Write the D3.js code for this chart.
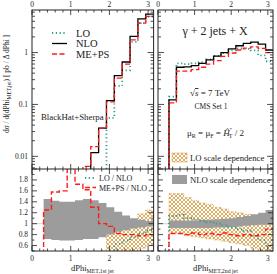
<!DOCTYPE html>
<html>
<head>
<meta charset="utf-8">
<script src="https://cdnjs.cloudflare.com/ajax/libs/d3/7.8.5/d3.min.js"></script>
<style>
  body { margin: 0; background: #fff; }
  text { font-family: "Liberation Serif", "DejaVu Serif", serif; fill: #222; }
</style>
</head>
<body>
<svg id="chart" width="277" height="274"></svg>
<script>
// bin edges in dPhi (same binning for both panels)
var edges = [0.3, 0.503, 0.706, 0.909, 1.112, 1.315, 1.518, 1.721, 1.924, 2.127, 2.330, 2.533, 2.736, 2.939, 3.1416];

// main panels, pb per bin (values under the axis are just estimates)
var nloLeft = [0.0003, 0.0005, 0.0008, 0.0012, 0.002, 0.0045, 0.0118, 0.035, 0.118, 0.358, 0.657, 2.05, 4.47, 5.5];
var mepsLeft = [0.0004, 0.0008, 0.0013, 0.0026, 0.0034, 0.0064, 0.0154, 0.035, 0.112, 0.32, 0.6, 1.76, 3.69, 4.97];
var loLeft = [null, null, null, null, null, null, null, null, 0.055, 0.227, 0.455, 1.6, 3.7, 4.9];

var nloRight = [0.122, 0.52, 0.53, 0.56, 0.62, 0.72, 0.85, 1.0, 1.18, 1.35, 1.5, 1.58, 1.45, 1.12];
var mepsRight = [0.107, 0.44, 0.44, 0.47, 0.52, 0.6, 0.7, 0.84, 0.98, 1.12, 1.22, 1.28, 1.2, 1.0];
var loRight = [0.141, 0.62, 0.6, 0.62, 0.65, 0.74, 0.86, 0.97, 1.1, 1.2, 1.18, 1.1, 0.88, 0.68];

// ratio panels
var loNloLeft = [null, null, null, null, null, null, null, null, 0.47, 0.63, 0.69, 0.76, 0.82, 0.88];
var mepsNloLeft = [1.25, 1.58, 1.6, 2.3, 1.72, 1.62, 1.3, 1.0, 0.95, 0.82, 0.8, 0.8, 0.78, 0.8];
var nloHiLeft = [1.45, 1.42, 1.4, 1.4, 1.43, 1.45, 1.43, 1.38, 1.3, 1.22, 1.15, 1.1, 1.07, 1.05];
var nloLoLeft = [0.72, 0.7, 0.69, 0.69, 0.7, 0.72, 0.72, 0.75, 0.8, 0.85, 0.88, 0.91, 0.93, 0.95];
var loHiLeft = [null, null, null, null, null, null, null, null, 0.82, 0.88, 0.95, 1.05, 1.18, 1.25];
var loLoLeft = [null, null, null, null, null, null, null, null, 0.35, 0.42, 0.45, 0.5, 0.55, 0.6];

var loNloRight = [1.14, 1.16, 1.1, 1.08, 1.05, 1.03, 1.0, 0.97, 0.93, 0.9, 0.87, 0.78, 0.7, 0.6];
var mepsNloRight = [0.82, 0.82, 0.8, 0.83, 0.8, 0.82, 0.8, 0.83, 0.8, 0.78, 0.8, 0.78, 0.8, 0.9];
var nloHiRight = [1.06, 1.06, 1.06, 1.06, 1.07, 1.07, 1.08, 1.09, 1.1, 1.12, 1.14, 1.17, 1.2, 1.25];
var nloLoRight = [0.92, 0.92, 0.92, 0.92, 0.92, 0.92, 0.93, 0.93, 0.94, 0.95, 0.96, 0.97, 0.98, 0.98];
var loHiRight = [1.55, 1.55, 1.48, 1.42, 1.38, 1.35, 1.3, 1.27, 1.22, 1.2, 1.17, 1.12, 1.08, 1.02];
var loLoRight = [0.82, 0.82, 0.78, 0.76, 0.74, 0.72, 0.7, 0.68, 0.65, 0.63, 0.6, 0.55, 0.48, 0.4];

var xTicks = [0, 1, 2, 3];
var mainTickLabels = [0.01, 0.1, 1];
var ratioTickLabels = [0.6, 0.8, 1, 1.2, 1.4, 1.6, 1.8];

var teal = "#2f9a8a", red = "#ff1a1a", grey = "#9c9c9c", hatchCol = "#d39a40";

var svg = d3.select("#chart");

var defs = svg.append("defs");
var pat = defs.append("pattern").attr("id", "hatch").attr("width", 4).attr("height", 4)
    .attr("patternUnits", "userSpaceOnUse");
pat.append("path").attr("d", "M0,0L4,4M4,0L0,4").attr("stroke", hatchCol).attr("stroke-width", 0.8);

var yMain = d3.scaleLog().domain([0.0057, 6.6]).range([169, 10]);
var yRatio = d3.scaleLinear().domain([0.5, 2.0]).range([251, 169]);

var panels = [
    { id: "L", x: d3.scaleLinear().domain([0, Math.PI]).range([32, 153.6]),
      nlo: nloLeft, meps: mepsLeft, lo: loLeft,
      rLo: loNloLeft, rMe: mepsNloLeft, nHi: nloHiLeft, nLo: nloLoLeft, lHi: loHiLeft, lLo: loLoLeft },
    { id: "R", x: d3.scaleLinear().domain([0, Math.PI]).range([158, 273]),
      nlo: nloRight, meps: mepsRight, lo: loRight,
      rLo: loNloRight, rMe: mepsNloRight, nHi: nloHiRight, nLo: nloLoRight, lHi: loHiRight, lLo: loLoRight }
];

// turns per-bin values into step points, rising from the floor at the first filled bin
function stepPts(vals, floor) {
    var pts = [], first = -1, last = -1;
    vals.forEach(function(v, i) { if (v != null) { if (first < 0) first = i; last = i; } });
    pts.push({ e: edges[first], v: floor });
    for (var i = first; i <= last; i++) pts.push({ e: edges[i], v: vals[i] });
    pts.push({ e: edges[last + 1], v: vals[last] });
    return pts;
}
function bandPts(hi, lo) {
    var pts = [];
    hi.forEach(function(v, i) { if (v != null) pts.push({ e: edges[i], hi: v, lo: lo[i] }); });
    var lastI = hi.length - 1;
    pts.push({ e: edges[lastI + 1], hi: hi[lastI], lo: lo[lastI] });
    return pts;
}

panels.forEach(function(p) {
    var x = p.x;
    var x0 = x.range()[0], x1 = x.range()[1];

    defs.append("clipPath").attr("id", "clipM" + p.id).append("rect")
        .attr("x", x0).attr("y", 10).attr("width", x1 - x0).attr("height", 159);
    defs.append("clipPath").attr("id", "clipR" + p.id).append("rect")
        .attr("x", x0).attr("y", 169).attr("width", x1 - x0).attr("height", 82);

    // ---- ratio panel
    var gr = svg.append("g").attr("clip-path", "url(#clipR" + p.id + ")");
    gr.append("line").attr("x1", x0).attr("x2", x1).attr("y1", yRatio(1)).attr("y2", yRatio(1))
        .attr("stroke", "#ccc").attr("stroke-width", 0.8);
    var area = d3.area().curve(d3.curveStepAfter)
        .x(function(d) { return x(d.e); })
        .y0(function(d) { return yRatio(d.lo); })
        .y1(function(d) { return yRatio(d.hi); });
    gr.append("path").attr("d", area(bandPts(p.lHi, p.lLo))).attr("fill", "url(#hatch)")
        .attr("stroke", hatchCol).attr("stroke-width", 0.6).attr("stroke-dasharray", "1,1");
    gr.append("path").attr("d", area(bandPts(p.nHi, p.nLo))).attr("fill", grey);

    var rline = d3.line().curve(d3.curveStepAfter)
        .x(function(d) { return x(d.e); })
        .y(function(d) { return yRatio(d.v); });
    gr.append("path").attr("d", rline(stepPts(p.rLo, 0.3))).attr("fill", "none")
        .attr("stroke", teal).attr("stroke-width", 1.8).attr("stroke-dasharray", "1.2,2.6");
    gr.append("path").attr("d", rline(stepPts(p.rMe, 0.3))).attr("fill", "none")
        .attr("stroke", red).attr("stroke-width", 1.4).attr("stroke-dasharray", "5,2.5");

    // ---- main panel
    var gm = svg.append("g").attr("clip-path", "url(#clipM" + p.id + ")");
    var mline = d3.line().curve(d3.curveStepAfter)
        .x(function(d) { return x(d.e); })
        .y(function(d) { return yMain(d.v); });
    gm.append("path").attr("d", mline(stepPts(p.lo, 1e-4))).attr("fill", "none")
        .attr("stroke", teal).attr("stroke-width", 1.8).attr("stroke-dasharray", "1.2,2.6");
    gm.append("path").attr("d", mline(stepPts(p.nlo, 1e-4))).attr("fill", "none")
        .attr("stroke", "#000").attr("stroke-width", 1.3);
    gm.append("path").attr("d", mline(stepPts(p.meps, 1e-4))).attr("fill", "none")
        .attr("stroke", red).attr("stroke-width", 1.3).attr("stroke-dasharray", "5,2.5");

    // ---- frames and ticks
    var ax = svg.append("g").attr("stroke", "#222").attr("fill", "none");
    ax.append("rect").attr("x", x0).attr("y", 10).attr("width", x1 - x0).attr("height", 241).attr("stroke-width", 1);
    ax.append("line").attr("x1", x0).attr("x2", x1).attr("y1", 169).attr("y2", 169).attr("stroke-width", 1);

    var minorX = d3.range(0, 3.15, 0.2);
    [10, 169, 251].forEach(function(yy) {
        minorX.forEach(function(v) {
            var major = Math.abs(v - Math.round(v)) < 1e-6;
            var len = major ? 5 : 2.5;
            if (yy !== 10) ax.append("line").attr("x1", x(v)).attr("x2", x(v)).attr("y1", yy).attr("y2", yy - len).attr("stroke-width", 0.8);
            if (yy !== 251) ax.append("line").attr("x1", x(v)).attr("x2", x(v)).attr("y1", yy).attr("y2", yy + len).attr("stroke-width", 0.8);
        });
    });

    var logTicks = [];
    [0.001, 0.01, 0.1, 1].forEach(function(dec) {
        for (var m = 1; m <= 9; m++) logTicks.push({ v: dec * m, major: m === 1 });
    });
    logTicks = logTicks.filter(function(t) { return t.v >= 0.0057 && t.v <= 6.6; });
    var ratioMinor = d3.range(0.5, 2.01, 0.1);

    [x0, x1].forEach(function(xx, side) {
        var dir = side === 0 ? 1 : -1;
        logTicks.forEach(function(t) {
            ax.append("line").attr("x1", xx).attr("x2", xx + dir * (t.major ? 6 : 3))
                .attr("y1", yMain(t.v)).attr("y2", yMain(t.v)).attr("stroke-width", 0.8);
        });
        ratioMinor.forEach(function(v) {
            var major = Math.abs(v * 5 - Math.round(v * 5)) < 1e-6;
            ax.append("line").attr("x1", xx).attr("x2", xx + dir * (major ? 5 : 2.5))
                .attr("y1", yRatio(v)).attr("y2", yRatio(v)).attr("stroke-width", 0.8);
        });
    });

    // x tick labels (top and bottom)
    svg.append("g").selectAll("text.top").data(xTicks).join("text")
        .attr("x", function(d) { return x(d); }).attr("y", 7)
        .attr("text-anchor", "middle").attr("font-size", 7.5).text(function(d) { return d; });
    svg.append("g").selectAll("text.bot").data(xTicks).join("text")
        .attr("x", function(d) { return x(d); }).attr("y", 261)
        .attr("text-anchor", "middle").attr("font-size", 7.5).text(function(d) { return d; });
});

// y tick labels
svg.append("g").selectAll("text").data(mainTickLabels).join("text")
    .attr("x", 28).attr("y", function(d) { return yMain(d) + 2.5; })
    .attr("text-anchor", "end").attr("font-size", 7.5).text(function(d) { return d; });
svg.append("g").selectAll("text").data(ratioTickLabels).join("text")
    .attr("x", 28).attr("y", function(d) { return yRatio(d) + 2.5; })
    .attr("text-anchor", "end").attr("font-size", 7.5).text(function(d) { return d; });

// y title
var yt = svg.append("text").attr("transform", "translate(9,84) rotate(-90)")
    .attr("text-anchor", "middle").attr("font-size", 7.5);
yt.append("tspan").text("d\u03c3 / d(dPhi");
yt.append("tspan").attr("font-size", 5.5).attr("dy", 2).text("MET,jet");
yt.append("tspan").attr("dy", -2).text(")   [ pb / \u0394 dPhi ]");

// x titles
[{ x: 71, sub: "MET,1st jet" }, { x: 193, sub: "MET,2nd jet" }].forEach(function(t) {
    var tt = svg.append("text").attr("x", t.x).attr("y", 270.5).attr("font-size", 8.5);
    tt.append("tspan").text("dPhi");
    tt.append("tspan").attr("font-size", 5.8).attr("dy", 2).text(t.sub);
});

// legend, main left
var legMain = [
    { label: "LO", color: teal, dash: "1.2,2.6", w: 1.8 },
    { label: "NLO", color: "#000", dash: null, w: 1.3 },
    { label: "ME+PS", color: red, dash: "5,2.5", w: 1.3 }
];
legMain.forEach(function(d, i) {
    var yy = 33 + i * 10.5;
    svg.append("line").attr("x1", 52).attr("x2", 67).attr("y1", yy).attr("y2", yy)
        .attr("stroke", d.color).attr("stroke-width", d.w).attr("stroke-dasharray", d.dash);
    svg.append("text").attr("x", 76).attr("y", yy + 3.6).attr("font-size", 10.5).text(d.label);
});
svg.append("text").attr("x", 41).attr("y", 120).attr("font-size", 8.8).text("BlackHat+Sherpa");

// legend, ratio left
var legRatio = [
    { label: "LO / NLO", color: teal, dash: "1.2,2.6", w: 1.8 },
    { label: "ME+PS / NLO", color: red, dash: "5,2.5", w: 1.3 }
];
legRatio.forEach(function(d, i) {
    var yy = 178 + i * 9.5;
    svg.append("line").attr("x1", 85).attr("x2", 96).attr("y1", yy).attr("y2", yy)
        .attr("stroke", d.color).attr("stroke-width", d.w).attr("stroke-dasharray", d.dash);
    svg.append("text").attr("x", 99).attr("y", yy + 3).attr("font-size", 8).text(d.label);
});

// right main annotations
svg.append("text").attr("x", 215).attr("y", 35).attr("text-anchor", "middle").attr("font-size", 12)
    .text("\u03b3 + 2 jets + X");
var rs = svg.append("text").attr("x", 190).attr("y", 96).attr("font-size", 9);
rs.append("tspan").text("\u221a");
rs.append("tspan").attr("font-style", "italic").attr("text-decoration", "overline").text("s");
rs.append("tspan").text("  =  7 TeV");
svg.append("text").attr("x", 211).attr("y", 109).attr("text-anchor", "middle").attr("font-size", 7.5).text("CMS Set 1");
var mu = svg.append("text").attr("x", 187).attr("y", 136).attr("font-size", 9);
mu.append("tspan").text("\u03bc");
mu.append("tspan").attr("font-size", 6).attr("dy", 2).text("R");
mu.append("tspan").attr("dy", -2).text(" = \u03bc");
mu.append("tspan").attr("font-size", 6).attr("dy", 2).text("F");
mu.append("tspan").attr("dy", -2).text(" = ");
mu.append("tspan").attr("font-style", "italic").text("\u0124");
mu.append("tspan").attr("font-size", 6).attr("dy", -4).text("''");
mu.append("tspan").attr("font-size", 6).attr("dx", -3).attr("dy", 6).text("T");
mu.append("tspan").attr("dy", -2).text(" / 2");

// scale-dependence legends
svg.append("rect").attr("x", 172).attr("y", 153).attr("width", 15).attr("height", 9)
    .attr("fill", "url(#hatch)").attr("stroke", hatchCol).attr("stroke-width", 0.5);
svg.append("text").attr("x", 190).attr("y", 161).attr("font-size", 8.7).text("LO scale dependence");
svg.append("rect").attr("x", 172).attr("y", 175).attr("width", 15).attr("height", 9).attr("fill", grey);
svg.append("text").attr("x", 190).attr("y", 183).attr("font-size", 8.7).text("NLO scale dependence");
</script>
</body>
</html>
